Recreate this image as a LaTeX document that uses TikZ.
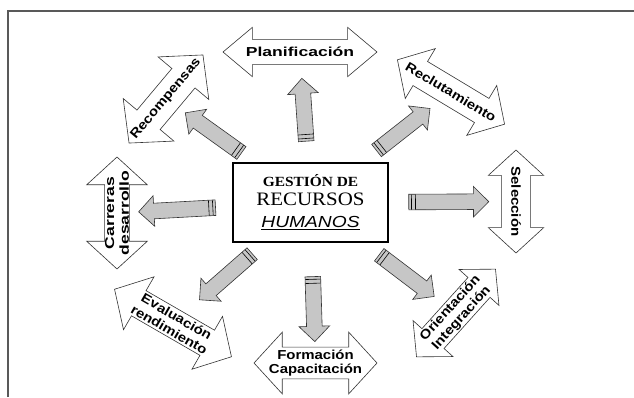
\documentclass[tikz,border=0pt]{standalone}
\usepackage{fontspec}
\setmainfont{Liberation Serif}
\newfontfamily\armfont[FakeStretch=1.15]{Liberation Sans}
\newfontfamily\armwidefont[FakeStretch=1.35]{Liberation Sans}
\newfontfamily\hubserif[FakeStretch=1.1]{Liberation Serif}
\newfontfamily\hubsans[FakeStretch=1.2]{Liberation Sans}
\usetikzlibrary{shapes.arrows,calc}

\tikzset{
  area/.style={double arrow, draw=black!80, line width=0.6pt, fill=white,
    align=center, inner xsep=-12pt, double arrow tip angle=95,
    font=\armfont\bfseries\fontsize{13}{14.8}\selectfont},
  widearea/.style={area, font=\armwidefont\bfseries\fontsize{13}{14.8}\selectfont},
  feed/.style={single arrow, draw=black!80, line width=0.6pt, fill=gray!45,
    inner sep=0pt, inner ysep=7.5pt, single arrow head extend=7.5pt,
    single arrow tip angle=90, sloped, allow upside down},
  hub/.style={rectangle, draw, line width=1.3pt, minimum width=155pt,
    minimum height=79pt, align=center,
    font=\hubserif\fontsize{14}{20}\selectfont}
}

\begin{document}
\begin{tikzpicture}[x=1pt, y=-1pt]
  \useasboundingbox (0,0) rectangle (634,397);
  \draw[line width=2pt, black!65] (8,397) -- (8,11) -- (634,11);

  % centre
  \node[hub] (hub) at (310.5,202.5) {{\bfseries GESTIÓN DE}\\[-1pt]
    {\fontsize{19}{20}\selectfont RECURSOS}\\[2pt]
    {\hubsans\itshape\fontsize{16}{18}\selectfont\underline{HUMANOS}}};

  % areas round it
  \node[widearea, minimum height=154pt, inner ysep=7.5pt,
    double arrow head extend=12pt, double arrow tip angle=80]
    (plan) at (300,52) {Planificación};
  \node[area, rotate=-31, minimum height=125pt, inner ysep=9pt,
    double arrow head extend=15pt] (recl) at (451,92) {Reclutamiento};
  \node[area, rotate=-90, minimum height=103pt, inner ysep=9.5pt,
    double arrow head extend=13pt] (selec) at (516,201.5) {Selección};
  \node[area, rotate=48, minimum height=118pt, inner ysep=1pt,
    double arrow head extend=12pt] (orient) at (456,313)
    {Orientación\\Integración};
  \node[area, minimum height=123pt, inner ysep=2pt,
    double arrow head extend=15pt] (form) at (315.5,363)
    {Formación\\Capacitación};
  \node[area, rotate=-30, minimum height=135pt, inner ysep=2pt,
    double arrow head extend=16pt] (evalu) at (173,323)
    {Evaluación\\rendimiento};
  \node[widearea, rotate=90, minimum height=112pt, inner ysep=0pt,
    double arrow head extend=18pt] (carr) at (117,213) {Carreras\\desarrollo};
  \node[area, rotate=50, minimum height=115pt, inner ysep=9pt,
    double arrow head extend=18pt] (recomp) at (166,99) {Recompensas};

  % grey arrows out of the centre
  \foreach \dest/\len/\where [count=\i] in {plan/63/.5, recl/68/.5,
      selec/80/.5, orient/69/.5, form/65/.6, evalu/70/.45, carr/77/.5,
      recomp/69/.5}
    \path (hub) -- (\dest) node[feed, pos=\where, minimum height=\len pt] (f\i) {};

  % bands at the tails
  \foreach \i in {1,...,8}
    \foreach \d in {3,7} {
      \path ($(f\i.tail)!\d pt!(f\i.tip)$) coordinate (b);
      \draw[line width=0.6pt] ($(b)!7.5pt!90:(f\i.tip)$) -- ($(b)!7.5pt!-90:(f\i.tip)$);
    }
\end{tikzpicture}
\end{document}
